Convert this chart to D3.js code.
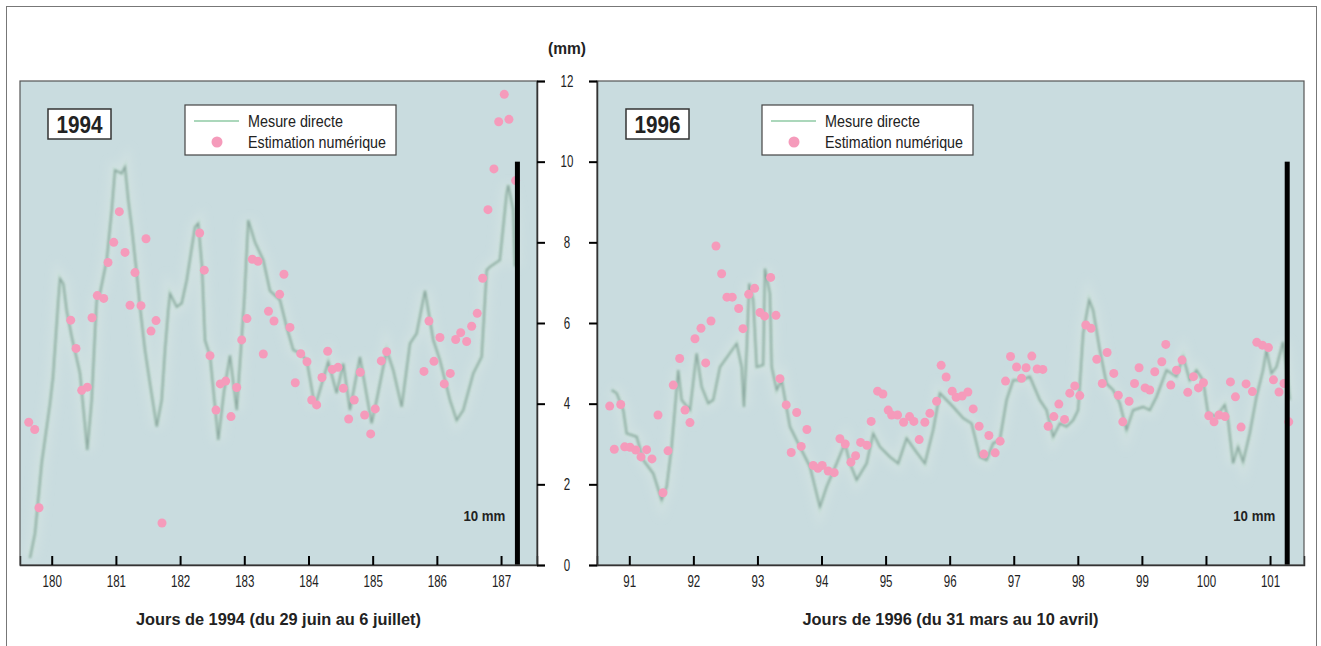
<!DOCTYPE html>
<html>
<head>
<meta charset="utf-8">
<script src="https://cdn.jsdelivr.net/npm/d3@7"></script>
<style>
  html, body { margin: 0; padding: 0; background: #fff; }
  svg { display: block; }
  text { font-family: "Liberation Sans", Arial, sans-serif; fill: #222; }
</style>
</head>
<body>
<svg width="1321" height="646"></svg>
<script>
// Data: [day, mm]
var mesure1994 = [
  [179.662, 0.17], [179.740, 0.79], [179.844, 2.53], [179.974, 4.01], [180.020, 4.65],
  [180.103, 6.57], [180.129, 7.10], [180.181, 6.97], [180.234, 6.30], [180.312, 5.66],
  [180.441, 4.75], [180.555, 2.85], [180.623, 4.09], [180.674, 5.75], [180.701, 6.57],
  [180.752, 6.74], [180.857, 7.56], [180.935, 8.80], [180.986, 9.79], [181.090, 9.71],
  [181.142, 9.87], [181.193, 9.05], [181.246, 8.38], [181.324, 7.23], [181.375, 6.40],
  [181.453, 5.33], [181.531, 4.50], [181.636, 3.43], [181.713, 4.09], [181.765, 5.33],
  [181.816, 6.32], [181.843, 6.73], [181.947, 6.40], [182.025, 6.49], [182.103, 7.06],
  [182.232, 8.38], [182.283, 8.47], [182.341, 7.40], [182.388, 5.57], [182.466, 5.19],
  [182.595, 3.10], [182.684, 4.30], [182.777, 5.20], [182.882, 3.84], [183.000, 6.57],
  [183.062, 8.55], [183.167, 8.00], [183.296, 7.56], [183.400, 6.80], [183.556, 6.57],
  [183.660, 5.90], [183.763, 5.33], [183.868, 5.25], [183.972, 5.08], [184.101, 3.92],
  [184.179, 4.34], [184.308, 5.04], [184.439, 4.26], [184.542, 5.00], [184.646, 3.84],
  [184.802, 5.16], [184.984, 3.51], [185.062, 4.09], [185.218, 5.33], [185.321, 4.83],
  [185.452, 3.92], [185.581, 5.49], [185.685, 5.74], [185.815, 6.80], [185.944, 5.58],
  [186.048, 5.08], [186.204, 4.09], [186.308, 3.59], [186.411, 3.84], [186.567, 4.75],
  [186.698, 5.16], [186.776, 7.31], [186.826, 7.39], [186.981, 7.56], [187.087, 9.21],
  [187.112, 9.42], [187.190, 8.80], [187.217, 7.40]
];

var estim1994 = [
  [179.642, 3.54], [179.735, 3.36], [179.802, 1.42], [180.296, 6.07], [180.379, 5.37],
  [180.467, 4.33], [180.555, 4.41], [180.628, 6.13], [180.710, 6.68], [180.810, 6.61],
  [180.877, 7.50], [180.966, 8.00], [181.053, 8.76], [181.142, 7.75], [181.220, 6.44],
  [181.297, 7.25], [181.391, 6.43], [181.469, 8.09], [181.547, 5.80], [181.625, 6.06],
  [181.718, 1.04], [182.305, 8.23], [182.377, 7.31], [182.466, 5.19], [182.559, 3.84],
  [182.626, 4.49], [182.710, 4.56], [182.793, 3.68], [182.882, 4.40], [182.960, 5.58],
  [183.042, 6.11], [183.125, 7.58], [183.213, 7.53], [183.296, 5.23], [183.377, 6.29],
  [183.463, 6.05], [183.551, 6.71], [183.618, 7.21], [183.712, 5.89], [183.794, 4.52],
  [183.879, 5.24], [183.977, 5.04], [184.050, 4.09], [184.128, 3.97], [184.210, 4.65],
  [184.299, 5.30], [184.371, 4.85], [184.460, 4.90], [184.542, 4.38], [184.626, 3.62],
  [184.713, 4.09], [184.807, 4.78], [184.875, 3.72], [184.969, 3.25], [185.040, 3.87],
  [185.134, 5.06], [185.218, 5.29], [185.799, 4.80], [185.877, 6.05], [185.955, 5.05],
  [186.048, 5.64], [186.115, 4.49], [186.209, 4.75], [186.293, 5.59], [186.371, 5.76],
  [186.464, 5.54], [186.542, 5.92], [186.629, 6.24], [186.713, 7.11], [186.796, 8.81],
  [186.889, 9.82], [186.963, 10.99], [187.050, 11.67], [187.123, 11.05], [187.227, 9.53]
];

var mesure1996 = [
  [90.725, 4.34], [90.803, 4.26], [90.906, 3.84], [90.959, 3.26], [91.115, 3.18],
  [91.218, 2.60], [91.374, 2.27], [91.505, 1.61], [91.583, 1.94], [91.661, 2.93],
  [91.764, 4.83], [91.817, 4.09], [91.947, 3.84], [92.051, 5.25], [92.129, 4.42],
  [92.232, 4.01], [92.310, 4.09], [92.415, 4.91], [92.676, 5.49], [92.754, 4.91],
  [92.789, 3.92], [92.832, 5.33], [92.872, 6.98], [92.934, 6.57], [92.988, 4.91],
  [93.090, 4.96], [93.117, 7.35], [93.195, 6.73], [93.222, 4.91], [93.300, 4.34],
  [93.378, 4.58], [93.507, 3.43], [93.663, 2.93], [93.819, 2.44], [93.975, 1.44],
  [94.080, 1.94], [94.236, 2.52], [94.365, 3.02], [94.443, 2.52], [94.548, 2.11],
  [94.704, 2.52], [94.807, 3.26], [94.911, 2.93], [95.067, 2.68], [95.197, 2.52],
  [95.328, 3.14], [95.457, 2.85], [95.613, 2.52], [95.743, 3.35], [95.847, 4.26],
  [96.055, 3.92], [96.211, 3.64], [96.342, 3.51], [96.471, 2.68], [96.576, 2.60],
  [96.679, 3.02], [96.783, 3.10], [96.888, 4.09], [96.991, 4.58], [97.122, 4.58],
  [97.251, 4.67], [97.407, 4.09], [97.512, 3.84], [97.615, 3.18], [97.720, 3.51],
  [97.824, 3.43], [97.927, 3.59], [98.005, 3.84], [98.083, 5.74], [98.177, 6.57],
  [98.239, 6.32], [98.343, 5.33], [98.448, 4.50], [98.551, 4.34], [98.655, 4.01],
  [98.760, 3.35], [98.863, 3.84], [99.019, 3.92], [99.123, 3.84], [99.228, 4.17],
  [99.384, 4.83], [99.540, 4.67], [99.643, 5.16], [99.747, 4.58], [99.852, 4.83],
  [99.955, 4.58], [100.033, 3.76], [100.164, 3.68], [100.293, 3.97], [100.345, 3.59],
  [100.423, 2.52], [100.501, 2.93], [100.579, 2.56], [100.683, 3.26], [100.788, 4.17],
  [100.891, 4.83], [100.944, 5.33], [101.022, 4.75], [101.100, 4.91], [101.203, 5.53],
  [101.256, 4.91], [101.307, 4.09]
];

var estim1996 = [
  [90.694, 3.94], [90.766, 2.87], [90.866, 3.98], [90.928, 2.93], [91.011, 2.92],
  [91.100, 2.85], [91.183, 2.68], [91.271, 2.86], [91.354, 2.63], [91.448, 3.72],
  [91.526, 1.79], [91.604, 2.83], [91.686, 4.46], [91.786, 5.12], [91.869, 3.84],
  [91.947, 3.53], [92.025, 5.61], [92.119, 5.87], [92.192, 5.01], [92.275, 6.05],
  [92.353, 7.91], [92.441, 7.22], [92.524, 6.64], [92.607, 6.64], [92.707, 6.36],
  [92.774, 5.86], [92.863, 6.71], [92.956, 6.86], [93.039, 6.26], [93.112, 6.17],
  [93.206, 7.13], [93.289, 6.19], [93.351, 4.62], [93.449, 3.97], [93.527, 2.79],
  [93.612, 3.78], [93.683, 2.94], [93.772, 3.36], [93.870, 2.47], [93.944, 2.40],
  [94.011, 2.47], [94.104, 2.33], [94.198, 2.29], [94.287, 3.13], [94.370, 3.00],
  [94.459, 2.55], [94.532, 2.71], [94.610, 3.04], [94.708, 2.97], [94.775, 3.56],
  [94.875, 4.31], [94.958, 4.24], [95.041, 3.84], [95.094, 3.72], [95.187, 3.72],
  [95.281, 3.54], [95.374, 3.68], [95.441, 3.56], [95.524, 3.11], [95.613, 3.54],
  [95.691, 3.76], [95.796, 4.06], [95.867, 4.95], [95.945, 4.66], [96.039, 4.31],
  [96.101, 4.16], [96.195, 4.19], [96.284, 4.29], [96.367, 3.87], [96.460, 3.44],
  [96.533, 2.75], [96.612, 3.21], [96.710, 2.78], [96.788, 3.07], [96.872, 4.56],
  [96.950, 5.17], [97.044, 4.91], [97.122, 4.63], [97.193, 4.89], [97.282, 5.18],
  [97.365, 4.86], [97.454, 4.85], [97.537, 3.44], [97.626, 3.68], [97.704, 3.99],
  [97.793, 3.61], [97.875, 4.26], [97.953, 4.44], [98.031, 4.20], [98.125, 5.95],
  [98.207, 5.87], [98.296, 5.10], [98.382, 4.50], [98.457, 5.27], [98.561, 4.75],
  [98.632, 4.21], [98.702, 3.55], [98.800, 4.06], [98.885, 4.50], [98.956, 4.89],
  [99.050, 4.39], [99.123, 4.34], [99.201, 4.79], [99.311, 5.04], [99.373, 5.47],
  [99.451, 4.46], [99.540, 4.83], [99.627, 5.08], [99.716, 4.28], [99.805, 4.67],
  [99.883, 4.39], [99.961, 4.52], [100.044, 3.70], [100.126, 3.55], [100.204, 3.72],
  [100.298, 3.68], [100.382, 4.54], [100.460, 4.17], [100.548, 3.42], [100.626, 4.49],
  [100.725, 4.30], [100.793, 5.52], [100.881, 5.45], [100.975, 5.39], [101.053, 4.59],
  [101.140, 4.29], [101.218, 4.50], [101.292, 3.55]
];

var xTicks1994 = [180, 181, 182, 183, 184, 185, 186, 187];
var xTicks1996 = [91, 92, 93, 94, 95, 96, 97, 98, 99, 100, 101];
var yTicks = [0, 2, 4, 6, 8, 10, 12];
var xTitles = ["Jours de 1994 (du 29 juin au 6 juillet)", "Jours de 1996 (du 31 mars au 10 avril)"];
var years = ["1994", "1996"];
var legendLabels = ["Mesure directe", "Estimation numérique"];
var scaleBarDays = [187.255, 101.268]; // where the 10 mm bar stands
var scaleBarMm = 10;

// squeeze text horizontally, the original uses a condensed face
function squeeze(sel, k) {
  sel.each(function() {
    var w = this.getComputedTextLength();
    d3.select(this).attr("textLength", w * k).attr("lengthAdjust", "spacingAndGlyphs");
  });
}
function fitTo(sel, w) {
  sel.attr("textLength", w).attr("lengthAdjust", "spacingAndGlyphs");
}

var svg = d3.select("svg");

var defs = svg.append("defs");
defs.append("filter").attr("id", "soft")
  .append("feGaussianBlur").attr("stdDeviation", 0.8);
defs.append("filter").attr("id", "haze")
  .attr("x", "-10%").attr("y", "-10%").attr("width", "120%").attr("height", "120%")
  .append("feGaussianBlur").attr("stdDeviation", 4);

// outer frame
svg.append("rect")
  .attr("x", 6.5).attr("y", 6.5).attr("width", 1310).attr("height", 660)
  .attr("fill", "none").attr("stroke", "#777").attr("stroke-width", 1);

var y = d3.scaleLinear().domain([0, 12]).range([565, 81]);

var panels = [
  { x: d3.scaleLinear().domain([179.506, 187.56]).range([20, 537]),
    ticks: xTicks1994, mesure: mesure1994, estim: estim1994,
    title: xTitles[0], titleW: 285, year: years[0], bar: scaleBarDays[0],
    yearBox: [48, 109], legendBox: [185, 105] },
  { x: d3.scaleLinear().domain([90.496, 101.53]).range([597, 1304]),
    ticks: xTicks1996, mesure: mesure1996, estim: estim1996,
    title: xTitles[1], titleW: 296, year: years[1], bar: scaleBarDays[1],
    yearBox: [626, 109], legendBox: [762, 105] }
];

panels.forEach(function(p, i) {
  var x0 = p.x.range()[0], x1 = p.x.range()[1];
  var g = svg.append("g");

  g.append("rect")
    .attr("x", x0).attr("y", y(12)).attr("width", x1 - x0).attr("height", y(0) - y(12))
    .attr("fill", "#c9dcdf");

  var clipId = "clip" + i;
  defs.append("clipPath").attr("id", clipId)
    .append("rect").attr("x", x0).attr("y", y(12)).attr("width", x1 - x0).attr("height", y(0) - y(12));

  var line = d3.line().x(d => p.x(d[0])).y(d => y(d[1]));

  var plot = g.append("g").attr("clip-path", "url(#" + clipId + ")");

  // light haze round the measured trace
  plot.append("path").datum(p.mesure)
    .attr("d", line)
    .attr("fill", "none").attr("stroke", "#dbe8e3").attr("stroke-width", 12)
    .attr("stroke-opacity", 0.4).attr("filter", "url(#haze)");

  plot.append("path").datum(p.mesure)
    .attr("d", line)
    .attr("fill", "none").attr("stroke", "#a6d3b4").attr("stroke-width", 4)
    .attr("stroke-opacity", 0.3).attr("filter", "url(#soft)");

  plot.append("path").datum(p.mesure)
    .attr("d", line)
    .attr("fill", "none").attr("stroke", "#5e7d76").attr("stroke-width", 1.6)
    .attr("stroke-opacity", 0.6).attr("filter", "url(#soft)");

  plot.selectAll("circle.est").data(p.estim).enter().append("circle")
    .attr("class", "est")
    .attr("cx", d => p.x(d[0])).attr("cy", d => y(d[1]))
    .attr("r", 4.5)
    .attr("fill", "#f59bbb");

  // 10 mm scale bar
  g.append("rect")
    .attr("x", p.x(p.bar) - 2.5).attr("y", y(scaleBarMm))
    .attr("width", 5).attr("height", y(0) - y(scaleBarMm))
    .attr("fill", "#000");
  g.append("text")
    .attr("x", p.x(p.bar) - 12).attr("y", 521)
    .attr("text-anchor", "end")
    .style("font-size", "14px").style("font-weight", "bold")
    .text(scaleBarMm + " mm")
    .call(fitTo, 42);

  // panel border
  g.append("rect")
    .attr("x", x0).attr("y", y(12)).attr("width", x1 - x0).attr("height", y(0) - y(12))
    .attr("fill", "none").attr("stroke", "#555").attr("stroke-width", 1.2);

  // x axis, ticks pointing inward
  var xAxis = d3.axisBottom(p.x).tickValues(p.ticks).tickSize(-9).tickPadding(10)
    .tickFormat(d3.format("d"));
  var ax = g.append("g").attr("transform", "translate(0," + y(0) + ")").call(xAxis);
  ax.select(".domain").attr("stroke", "#333").attr("stroke-width", 1.5);
  ax.selectAll(".tick line").attr("stroke", "#000").attr("stroke-width", 2);
  ax.selectAll(".tick text")
    .style("font-family", "\"Liberation Sans\", Arial, sans-serif")
    .style("font-size", "17px").attr("fill", "#222")
    .call(squeeze, 0.68);

  g.append("text")
    .attr("x", (x0 + x1) / 2).attr("y", 625)
    .attr("text-anchor", "middle")
    .style("font-size", "17px").style("font-weight", "bold")
    .text(p.title)
    .call(fitTo, p.titleW);

  // year label box
  var yb = g.append("g").attr("transform", "translate(" + p.yearBox[0] + "," + p.yearBox[1] + ")");
  yb.append("rect").attr("width", 63).attr("height", 30)
    .attr("fill", "#fff").attr("stroke", "#333").attr("stroke-width", 1.5);
  yb.append("text").attr("x", 31.5).attr("y", 23.5).attr("text-anchor", "middle")
    .style("font-size", "23px").style("font-weight", "bold")
    .text(p.year)
    .call(fitTo, 46);

  // legend
  var lg = g.append("g").attr("transform", "translate(" + p.legendBox[0] + "," + p.legendBox[1] + ")");
  lg.append("rect").attr("width", 211).attr("height", 50)
    .attr("fill", "#fff").attr("stroke", "#444").attr("stroke-width", 1.2);
  lg.append("line").attr("x1", 9).attr("x2", 54).attr("y1", 16).attr("y2", 16)
    .attr("stroke", "#8fcaa4").attr("stroke-width", 1.5);
  lg.append("circle").attr("cx", 32).attr("cy", 37).attr("r", 5.5).attr("fill", "#f59bbb");
  var legendW = [95, 138];
  lg.selectAll("text.lab").data(legendLabels).enter().append("text")
    .attr("class", "lab")
    .attr("x", 63).attr("y", (d, j) => 22 + j * 21)
    .style("font-size", "17px")
    .attr("textLength", (d, j) => legendW[j]).attr("lengthAdjust", "spacingAndGlyphs")
    .text(d => d);
});

// shared y axis between the panels
var yAxisR = d3.axisRight(y).tickValues(yTicks).tickSize(8).tickFormat("");
var ayr = svg.append("g").attr("transform", "translate(537,0)").call(yAxisR);
var yAxisL = d3.axisLeft(y).tickValues(yTicks).tickSize(8).tickFormat("");
var ayl = svg.append("g").attr("transform", "translate(597,0)").call(yAxisL);
[ayr, ayl].forEach(function(a) {
  a.select(".domain").attr("stroke", "#333").attr("stroke-width", 1.5);
  a.selectAll(".tick line").attr("stroke", "#000").attr("stroke-width", 2);
});

svg.selectAll("text.ylab").data(yTicks).enter().append("text")
  .attr("class", "ylab")
  .attr("x", 567).attr("y", d => y(d))
  .attr("dy", "0.36em")
  .attr("text-anchor", "middle")
  .style("font-size", "16px")
  .text(d => d)
  .call(squeeze, 0.72);

svg.append("text")
  .attr("x", 567).attr("y", 54)
  .attr("text-anchor", "middle")
  .style("font-size", "16px").style("font-weight", "bold")
  .text("(mm)")
  .call(fitTo, 38);
</script>
</body>
</html>
